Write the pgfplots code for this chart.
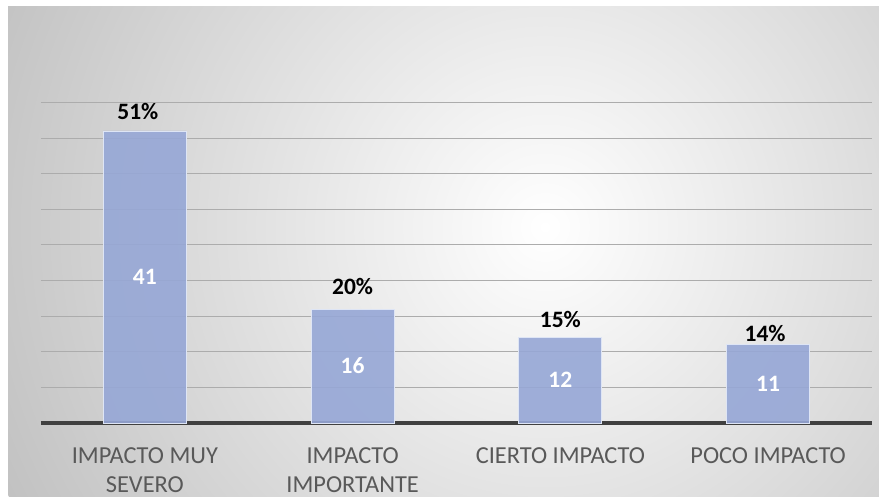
\documentclass[border=0pt]{standalone}
\usepackage{pgfplots}
\pgfplotsset{compat=1.18}
\usepackage{fontspec}
\setmainfont{Carlito}
\definecolor{barblue}{RGB}{150,167,214}
\definecolor{baredge}{RGB}{222,229,245}
\definecolor{ticktext}{RGB}{89,89,89}
\definecolor{axisdark}{RGB}{64,64,64}
\definecolor{gridgray}{RGB}{172,172,172}
\begin{document}
\begin{tikzpicture}[x=1pt,y=1pt]
\path[use as bounding box] (0,0) rectangle (879,497);
\begin{scope}
\clip (8,0) rectangle (879,490);
\shade[inner color=white, outer color=black!24] (545,270) circle (600);
\end{scope}
\begin{axis}[
  at={(41pt,74pt)}, anchor=south west,
  scale only axis, width=831pt, height=320.5pt,
  xmin=-0.5, xmax=3.5, ymin=0, ymax=45,
  axis x line=bottom, axis y line=left,
  x axis line style={-, line width=3.2pt, color=axisdark},
  y axis line style={draw=none},
  ytick={5,10,...,45}, yticklabels={},
  ymajorgrids, grid style={gridgray, line width=1pt},
  major tick length=0pt,
  xtick={0,1,2,3},
  xticklabels={{IMPACTO MUY\\SEVERO},{IMPACTO\\IMPORTANTE},{CIERTO IMPACTO},{POCO IMPACTO}},
  xticklabel style={align=center, anchor=north, inner sep=0pt, yshift=-24pt,
    font=\fontsize{24.4}{29.5}\selectfont, text=ticktext},
  /pgf/number format/assume math mode=true,
  clip=false,
]
\addplot[ybar, bar width=83pt, fill=barblue, fill opacity=0.9, draw=baredge, line width=0.8pt,
  nodes near coords,
  visualization depends on={y \as \rawy},
  every node near coord/.append style={font=\fontsize{23.5}{28}\selectfont\bfseries, text=white,
    anchor=center, inner sep=0pt, fill opacity=1, text opacity=1,
    shift={(axis direction cs:0,-\rawy/2)}}]
coordinates {(0,41) (1,16) (2,12) (3,11)};
\addplot[only marks, mark=none, forget plot,
  nodes near coords={\pgfplotspointmeta\%},
  point meta=explicit symbolic,
  visualization depends on={\thisrow{dx} \as \dx},
  visualization depends on={\thisrow{dy} \as \dy},
  every node near coord/.append style={font=\fontsize{23.5}{28}\selectfont\bfseries, text=black,
    anchor=base, inner sep=0pt, xshift={\dx}, yshift={\dy}}]
table[x=x, y=y, meta=p] {
x y p dx dy
0 41 51 -7 11.7
1 16 20 0 15
2 12 15 0 9.7
3 11 14 -3 3.3
};
\end{axis}
\end{tikzpicture}
\end{document}
